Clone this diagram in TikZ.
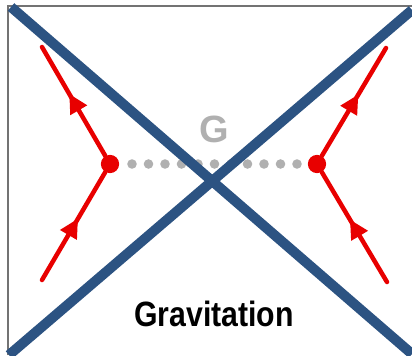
\documentclass[tikz,border=0pt]{standalone}
\usepackage{fontspec}
\setmainfont{Liberation Sans}
\usetikzlibrary{arrows.meta,decorations.markings}
\definecolor{crossblue}{RGB}{44,83,130}
\definecolor{quarkred}{RGB}{232,0,0}
\definecolor{dotgray}{RGB}{176,176,176}

\begin{document}
\begin{tikzpicture}[x=0.025cm, y=-0.025cm,
  frame/.style={draw=black!55, line width=1pt},
  cross/.style={draw=crossblue, line width=7.1pt},
  fermion/.style={draw=quarkred, line width=3.2pt, line cap=round, postaction={decorate},
    decoration={markings, mark=at position 0.57 with {\arrow{Triangle[length=13.5pt,width=13pt]}}}},
  vertex/.style={circle, fill=quarkred, inner sep=0pt, minimum size=13pt},
  graviton/.style={circle, fill=dotgray, inner sep=0pt, minimum size=6.8pt},
  bigtext/.style={font=\bfseries\fontsize{25}{30}\selectfont, inner sep=0pt}]
  \useasboundingbox (0,0) rectangle (412,355);
  \draw[frame] (8,355) -- (8,6) -- (412,6);
  \coordinate (lin) at (42,280); \coordinate (lout) at (42,47);
  \coordinate (rin) at (387,282); \coordinate (rout) at (386,48);
  \coordinate (tl) at (11,7); \coordinate (br) at (412,354);
  \coordinate (tr) at (412,10); \coordinate (bl) at (9,355);
  \foreach \i in {0,...,10} \node[graviton] (g\i) at (132+16.5*\i,164) {};
  \node[vertex] (lv) at (110,164) {};
  \node[vertex] (rv) at (317,164) {};
  \draw[fermion] (lin) -- (lv); \draw[fermion] (lv) -- (lout);
  \draw[fermion] (rin) -- (rv); \draw[fermion] (rv) -- (rout);
  \node[bigtext, text=dotgray, scale=1.08] (gname) at (214,129) {G};
  \node[bigtext, xscale=0.86] (title) at (214,314) {Gravitation};
  \draw[cross] (tl) -- (br); \draw[cross] (tr) -- (bl);
\end{tikzpicture}
\end{document}
